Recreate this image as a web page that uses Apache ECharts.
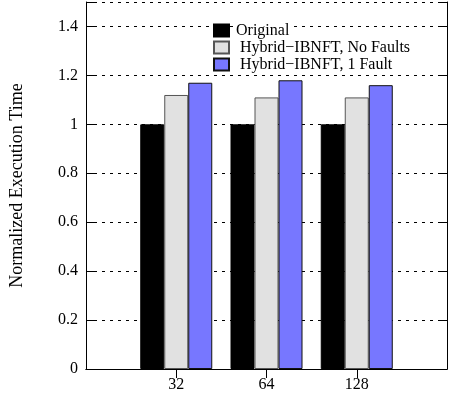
<!DOCTYPE html>
<html><head><meta charset="utf-8">
<script src="https://cdn.jsdelivr.net/npm/echarts@6/dist/echarts.min.js"></script>
<style>html,body{margin:0;padding:0;background:#fff}#c{width:450px;height:396px}</style>
</head><body><div id="c"></div>
<script>
const categories = ['', '32', '64', '128', ''];
const seriesNames = ['Original', ' Hybrid\u2212IBNFT, No Faults', ' Hybrid\u2212IBNFT, 1 Fault'];
const original = [null, 1.0, 1.0, 1.0, null];
const noFaults = [null, 1.12, 1.11, 1.11, null];
const oneFault = [null, 1.17, 1.18, 1.16, null];
const yTicks = [0, 0.2, 0.4, 0.6, 0.8, 1, 1.2, 1.4];

const font = 'Liberation Serif';
const chart = echarts.init(document.getElementById('c'), null, {renderer: 'canvas'});
const tickShow = (i) => categories[i] !== '';
chart.setOption({
  animation: false,
  textStyle: {fontFamily: font},
  grid: {left: 85, right: 0, top: 2, bottom: 27, containLabel: false},
  legend: {
    orient: 'vertical', left: 213, top: 22, itemWidth: 15, itemHeight: 12, itemGap: 0,
    icon: 'rect', padding: 0,
    textStyle: {fontFamily: font, fontSize: 16, lineHeight: 17, color: '#000', backgroundColor: '#fff', padding: [0, 2, 0, 2]},
    data: seriesNames
  },
  xAxis: [{
    type: 'category', data: categories, boundaryGap: false, position: 'bottom',
    axisLine: {lineStyle: {color: '#000', width: 1}},
    axisTick: {show: false},
    axisLabel: {color: '#000', fontFamily: font, fontSize: 16, margin: 8},
    splitLine: {show: false}
  }, {
    type: 'category', data: categories, boundaryGap: false, position: 'top',
    axisLine: {lineStyle: {color: '#000', width: 1}},
    axisTick: {show: true, inside: true, length: 9, interval: (i) => tickShow(i), lineStyle: {color: '#000'}},
    axisLabel: {show: false}
  }],
  yAxis: [{
    type: 'value', min: 0, max: 1.5, interval: 0.2,
    name: 'Normalized Execution Time', nameLocation: 'middle', nameGap: 60,
    nameTextStyle: {color: '#000', fontFamily: font, fontSize: 18},
    axisLine: {show: true, lineStyle: {color: '#000', width: 1}},
    axisTick: {show: true, inside: true, length: 8, lineStyle: {color: '#000'}},
    axisLabel: {color: '#000', fontFamily: font, fontSize: 16, margin: 8,
      formatter: (v) => yTicks.some(t => Math.abs(t - v) < 1e-9) ? String(+v.toFixed(1)) : ''},
    splitLine: {show: true, lineStyle: {color: '#000', width: 1, type: [3, 5]}}
  }, {
    type: 'value', min: 0, max: 1.5, interval: 0.2, position: 'right',
    axisLine: {show: true, lineStyle: {color: '#000', width: 1}},
    axisTick: {show: true, inside: true, length: 8, lineStyle: {color: '#000'}},
    axisLabel: {show: false}, splitLine: {show: false}
  }],
  series: [
    {name: seriesNames[0], type: 'bar', data: original, barWidth: 24, barGap: '0%', z: 3,
     itemStyle: {color: '#000', borderColor: '#000', borderWidth: 1}},
    {name: seriesNames[1], type: 'bar', data: noFaults, barWidth: 24, barGap: '0%', z: 3,
     itemStyle: {color: '#e1e1e1', borderColor: '#555', borderWidth: 1}},
    {name: seriesNames[2], type: 'bar', data: oneFault, barWidth: 24, barGap: '0%', z: 3,
     itemStyle: {color: '#7777ff', borderColor: '#111', borderWidth: 1}}
  ]
});
</script></body></html>
